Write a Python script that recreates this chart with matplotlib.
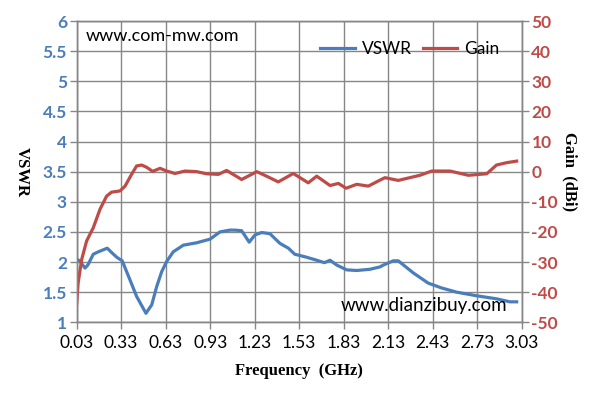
import numpy as np
import matplotlib
matplotlib.use('Agg')
import matplotlib.pyplot as plt

# VSWR curve
vswr_f = [0.03, 0.05, 0.086, 0.105, 0.142, 0.176, 0.236, 0.265, 0.30, 0.337, 0.39, 0.434,
          0.497, 0.536, 0.569, 0.603, 0.637, 0.681, 0.749, 0.839, 0.929, 0.996, 1.063,
          1.097, 1.142, 1.193, 1.232, 1.277, 1.333, 1.40, 1.457, 1.50, 1.58, 1.648, 1.70,
          1.738, 1.783, 1.85, 1.918, 2.007, 2.075, 2.097, 2.164, 2.198, 2.299, 2.40, 2.49,
          2.592, 2.727, 2.86, 2.95, 2.996]
vswr = [2.05, 2.02, 1.90, 1.95, 2.13, 2.17, 2.23, 2.16, 2.08, 2.02, 1.70, 1.43,
        1.15, 1.29, 1.59, 1.84, 2.01, 2.17, 2.28, 2.32, 2.38, 2.50, 2.53,
        2.53, 2.52, 2.33, 2.45, 2.49, 2.47, 2.31, 2.23, 2.13, 2.08, 2.03, 1.99,
        2.03, 1.95, 1.87, 1.86, 1.88, 1.92, 1.95, 2.02, 2.02, 1.82, 1.65, 1.57,
        1.50, 1.44, 1.39, 1.34, 1.34]

# Gain curve (dBi)
gain_f = [0.03, 0.04, 0.064, 0.097, 0.142, 0.187, 0.232, 0.265, 0.322, 0.356, 0.40, 0.434,
          0.468, 0.50, 0.542, 0.592, 0.637, 0.693, 0.76, 0.839, 0.906, 0.985, 1.041,
          1.142, 1.244, 1.31, 1.389, 1.49, 1.591, 1.648, 1.738, 1.794, 1.846, 1.918,
          1.996, 2.075, 2.108, 2.198, 2.344, 2.423, 2.547, 2.67, 2.794, 2.86, 2.93, 2.996]
gain = [-43.8, -36.9, -29.1, -23.0, -18.6, -12.5, -8.1, -6.8, -6.4, -4.8, -0.9, 1.9,
        2.2, 1.5, 0.1, 1.1, 0.2, -0.6, 0.2, 0.0, -0.7, -0.9, 0.4,
        -2.6, 0.0, -1.5, -3.4, -0.6, -3.7, -1.5, -4.6, -3.9, -5.5, -4.2,
        -4.8, -2.8, -2.0, -2.9, -1.2, 0.2, 0.2, -1.2, -0.7, 2.2, 3.0, 3.5]

xticks = [0.03, 0.33, 0.63, 0.93, 1.23, 1.53, 1.83, 2.13, 2.43, 2.73, 3.03]
vswr_ticks = [1, 1.5, 2, 2.5, 3, 3.5, 4, 4.5, 5, 5.5, 6]
gain_ticks = [-50, -40, -30, -20, -10, 0, 10, 20, 30, 40, 50]

blue = '#4a7ebb'
red = '#be4b48'
grid_c = '#868686'
tick_font = 'Lato'
lab_font = 'Liberation Serif'

fig = plt.figure(figsize=(5.93, 4.04), dpi=100)
ax = fig.add_axes([0.1293, 0.2022, 0.8798 - 0.1293, 0.948 - 0.2022])
ax2 = ax.twinx()

l1, = ax.plot(vswr_f, vswr, color=blue, lw=2.3, label='VSWR')
l2, = ax2.plot(gain_f, gain, color=red, lw=2.3, label='Gain')

ax.set_xlim(0.03, 3.03)
ax.set_ylim(1, 6)
ax2.set_ylim(-50, 50)
ax.set_xticks(xticks)
ax.set_xticklabels([f'{t:.2f}' for t in xticks], fontsize=12.5, family=tick_font)
ax.set_yticks(vswr_ticks)
ax.set_yticklabels([f'{t:g}' for t in vswr_ticks], fontsize=12.5, color=blue,
                   fontweight='bold', family=tick_font)
ax2.set_yticks(gain_ticks)
ax2.set_yticklabels([str(t) for t in gain_ticks], fontsize=12.5, color=red,
                    fontweight='bold', family=tick_font)

ax.grid(True, color=grid_c, lw=1)
ax.set_axisbelow(True)
for a in (ax, ax2):
    for s in a.spines.values():
        s.set_color(grid_c)
        s.set_linewidth(1)
    a.tick_params(length=5, color=grid_c, width=1, pad=2)
ax.tick_params(axis='x', pad=4)

ax.set_xlabel('Frequency  (GHz)', family=lab_font, fontweight='bold', fontsize=12,
              labelpad=9)
ax.set_ylabel('VSWR', family=lab_font, fontweight='bold', fontsize=12, rotation=-90,
              labelpad=21)
ax2.set_ylabel('Gain  (dBi)', family=lab_font, fontweight='bold', fontsize=12,
               rotation=-90, labelpad=14)

ax.legend(handles=[l1, l2], loc='upper right', bbox_to_anchor=(0.985, 0.985), ncol=2,
          frameon=False, handlelength=2.0, columnspacing=0.6, handletextpad=0.4,
          prop={'family': tick_font, 'size': 12.5})

ax.text(0.02, 0.95, 'www.com-mw.com', transform=ax.transAxes, fontsize=13,
        family=tick_font, va='center', ha='left', color='black')
ax.text(0.593, 0.055, 'www.dianzibuy.com', transform=ax.transAxes, fontsize=13.5,
        family=tick_font, va='center', ha='left', color='black')

fig.savefig('out.png', dpi=100)
